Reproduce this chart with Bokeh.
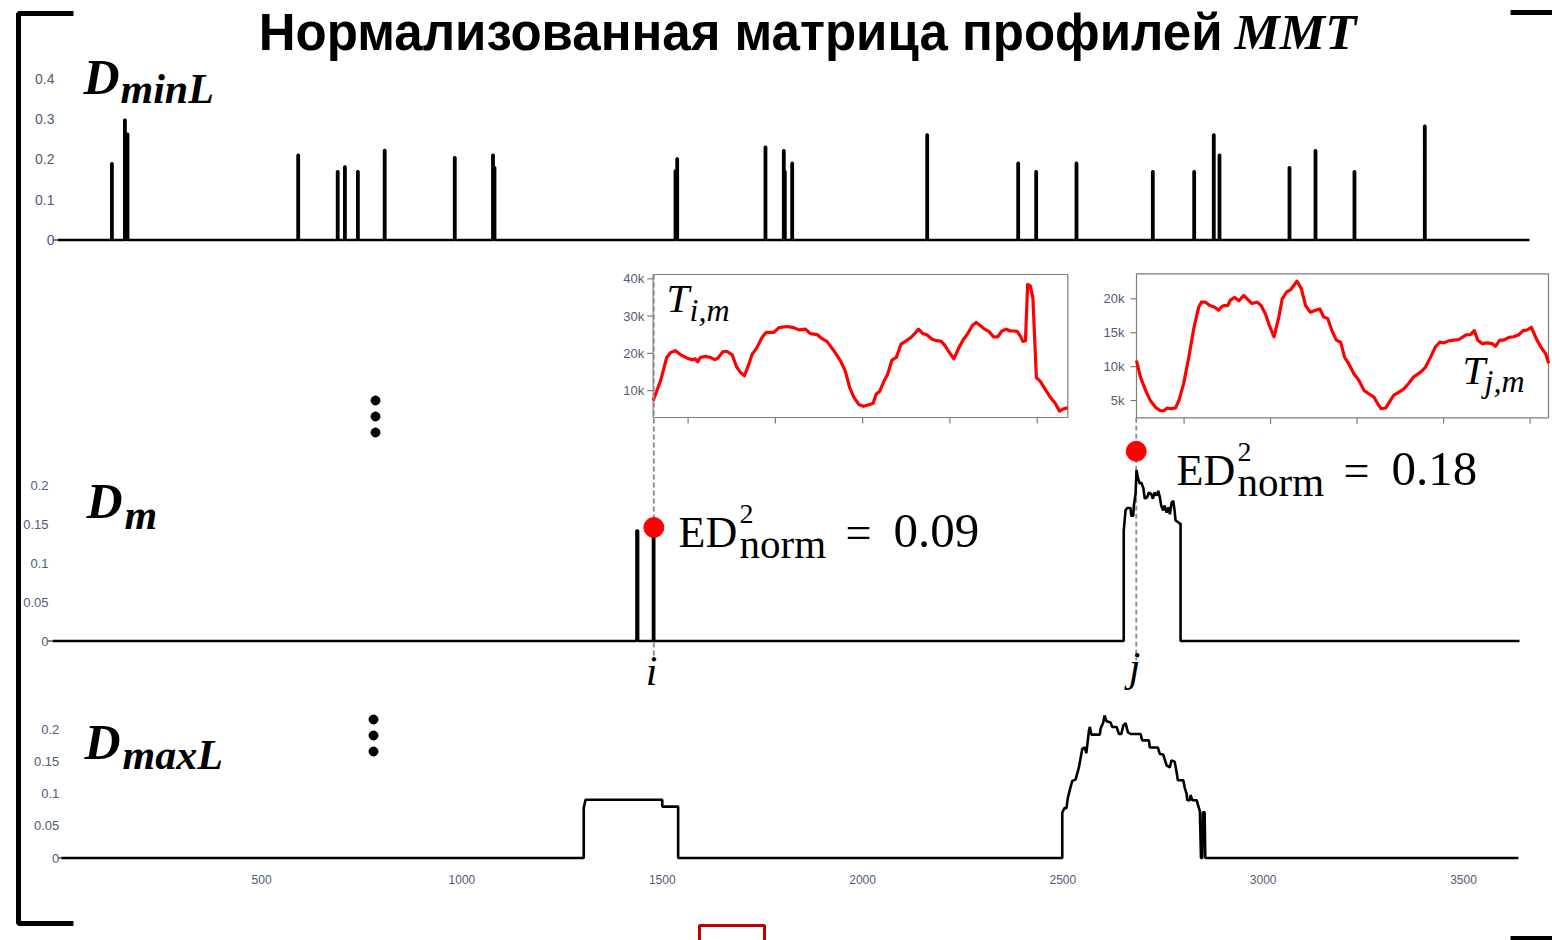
from bokeh.plotting import figure
from bokeh.models import Range1d
from bokeh.core.properties import value
from bokeh.embed import file_html
from bokeh.resources import INLINE

W, H = 1552, 940

# ---------------- data ----------------
series_length = 3640

# D_minL : isolated spikes (position, value)
dminl_positions = [134.5, 166.7, 173.1, 595.2, 692.9, 710.7, 742.8, 809.1, 982.4, 1076.9,
                   1080.6, 1528.2, 1532.4, 1750.7, 1796.0, 1798.5, 1816.7, 2150.6, 2375.6,
                   2420.1, 2519.8, 2708.5, 2810.8, 2859.3, 2873.4, 3046.5, 3110.8, 3207.2, 3381.1]
dminl_values = [0.190, 0.298, 0.263, 0.211, 0.170, 0.182, 0.170, 0.223, 0.205, 0.211,
                0.180, 0.172, 0.202, 0.231, 0.222, 0.170, 0.191, 0.261, 0.191,
                0.170, 0.191, 0.170, 0.170, 0.261, 0.211, 0.180, 0.222, 0.170, 0.283]

# D_m profile
dm_x = [0, 1449, 1449, 1453, 1453, 1490, 1490, 1493, 1493,
        2658, 2658, 2662.5, 2666.7, 2675, 2676.7, 2681.6, 2683.1, 2687.3, 2689.8, 2693,
        2698, 2701.5, 2706.5, 2710.4, 2716.4, 2720.3, 2726.3, 2730.3, 2734.5, 2739.5,
        2743.7, 2747.6, 2751.1, 2756.1, 2759.3, 2764.3, 2768.5, 2772.5, 2776.7, 2780.9,
        2784.1, 2786.6, 2792.3, 2797.3, 2799, 2799, 3640]
dm_y = [0, 0, 0.142, 0.142, 0, 0, 0.146, 0.146, 0,
        0, 0.142, 0.168, 0.171, 0.171, 0.161, 0.161, 0.174, 0.189, 0.220, 0.210,
        0.202, 0.204, 0.197, 0.183, 0.185, 0.191, 0.189, 0.183, 0.191, 0.187,
        0.193, 0.185, 0.174, 0.168, 0.174, 0.165, 0.172, 0.163, 0.178, 0.180,
        0.168, 0.155, 0.153, 0.151, 0.151, 0, 0]

# D_maxL profile
dmaxl_x = [0, 1304, 1304, 1308.5, 1500, 1500, 1539.7, 1539.7, 2498.5, 2498.5, 2504, 2509,
           2512.5, 2519, 2523.5, 2531.7, 2540, 2548.5, 2555, 2558.5, 2565, 2567.5, 2571,
           2592.4, 2594, 2600.8, 2604, 2609, 2619, 2623, 2634, 2640, 2645.8, 2650.8,
           2656.5, 2662.2, 2669, 2694, 2698, 2714.7, 2717, 2737, 2742, 2750.6, 2754,
           2759, 2767, 2771, 2779, 2784, 2787, 2800.6, 2804, 2809, 2810.5, 2817, 2818.8,
           2823, 2834, 2837, 2842, 2844.7, 2848, 2849.5, 2853.8, 2855.5, 3637]
dmaxl_y = [0, 0, 0.0777, 0.0906, 0.0906, 0.080, 0.080, 0, 0, 0.0708, 0.0776, 0.0776,
           0.094, 0.110, 0.120, 0.122, 0.141, 0.170, 0.172, 0.163, 0.198, 0.204, 0.192,
           0.192, 0.201, 0.211, 0.222, 0.213, 0.211, 0.204, 0.204, 0.193, 0.193, 0.206,
           0.210, 0.196, 0.193, 0.193, 0.183, 0.183, 0.172, 0.172, 0.162, 0.161, 0.154,
           0.144, 0.141, 0.152, 0.150, 0.133, 0.121, 0.121, 0.110, 0.0995, 0.090, 0.090, 0.098,
           0.090, 0.090, 0.083, 0.073, 0, 0, 0.071, 0.071, 0, 0]

i_index = 1492
j_index = 2689
ed_marker_values = [0.146, 0.244]

# subsequence T_{i,m}: offset from i, value
ti_offset = [0, 1.7, 3.1, 4.0, 5.1, 6.3, 7.8, 8.9, 9.7, 10.2, 10.8, 12.0, 13.1, 14.1, 14.8,
             16.0, 16.9, 18.1, 19.1, 20.0, 20.9, 21.8, 22.7, 23.7, 25.0, 25.9, 27.6, 28.8,
             30.7, 32.2, 33.4, 34.9, 36.0, 37.6, 38.5, 39.8, 41.4, 42.9, 44.0, 45.0, 46.0,
             47.1, 48.2, 49.6, 50.4, 51.1, 51.9, 53.0, 53.7, 54.7, 55.7, 56.8, 57.8, 58.9,
             59.7, 60.8, 61.8, 62.7, 63.9, 65.0, 66.0, 66.9, 67.7, 68.9, 70.0, 71.0, 71.9,
             73.1, 74.0, 75.0, 75.9, 76.9, 78.0, 78.9, 79.9, 80.9, 81.8, 82.6, 83.4, 84.1,
             84.7, 85.3, 85.8, 86.4, 87.0, 87.8, 88.7, 89.8, 91.0, 92.1, 93.1, 94.0, 95.0]
ti_values = [7330, 12700, 18900, 20200, 20700, 19600, 18700, 18300, 18500, 17700, 18900,
             19200, 18900, 18300, 18700, 20500, 20500, 19600, 16400, 14900, 14000, 16700,
             19800, 21400, 24400, 25600, 25600, 26900, 27200, 26900, 26300, 26500, 25300,
             25000, 24100, 23200, 20700, 18000, 15300, 10900, 8200, 6300, 5800, 6300, 6600,
             9100, 9800, 12800, 14300, 18200, 18900, 22500, 23200, 24100, 25000, 26500,
             25300, 25000, 23800, 23400, 23200, 22000, 20500, 18500, 21400, 23600, 25000,
             27400, 28300, 27400, 26500, 25900, 24400, 24400, 26000, 26500, 26000, 26000,
             25900, 24700, 23200, 23400, 38500, 38100, 34900, 13500, 12500, 10400, 8200,
             6600, 4500, 5100, 5400]

# subsequence T_{j,m}: offset from j, value
tj_offset = [0, 0.9, 2.1, 3.2, 4.4, 5.5, 6.3, 7.1, 7.9, 9.0, 9.8, 10.9, 12.1, 13.3, 14.4,
             15.0, 15.95, 16.95, 18.0, 19.0, 19.65, 20.2, 21.1, 21.7, 22.7, 23.7, 24.8,
             25.7, 26.7, 27.9, 28.8, 29.8, 30.7, 31.8, 32.9, 33.7, 34.7, 35.6, 36.4, 37.1,
             38.1, 39.1, 40.2, 41.4, 42.4, 43.3, 44.2, 45.2, 46.2, 47.2, 48.1, 49.1, 50.3,
             51.4, 52.6, 53.7, 54.9, 55.8, 56.6, 57.6, 58.5, 59.5, 60.6, 61.8, 63.0, 64.1,
             65.7, 66.8, 68.0, 69.1, 70.1, 71.1, 72.2, 73.4, 74.5, 75.5, 76.3, 77.2, 78.1,
             78.9, 79.9, 81.1, 82.2, 83.0, 84.0, 84.9, 86.1, 87.2, 88.4, 89.4, 90.3, 91.3,
             92.6, 93.6, 94.6, 95.3]
tj_values = [10900, 8500, 6500, 5000, 4000, 3500, 3500, 3900, 3800, 3900, 5000, 7500, 11400,
             15800, 18800, 19500, 19500, 19000, 18800, 18300, 18800, 19000, 19000, 19800,
             20200, 19700, 20500, 19900, 19300, 19500, 19000, 17800, 16100, 14400, 17300,
             20000, 21000, 21300, 22000, 22600, 21500, 19000, 18000, 18300, 18500, 17300,
             17100, 15300, 13900, 13600, 11400, 10400, 8900, 8000, 6500, 6000, 5500, 4500,
             3800, 3900, 4800, 5800, 6200, 6700, 7600, 8500, 9200, 9900, 11400, 12900,
             13600, 13500, 13800, 13900, 14000, 14400, 14700, 14700, 15300, 13900, 13400,
             13500, 13400, 13000, 13900, 13900, 14300, 14400, 14700, 15300, 15400, 15800,
             13900, 12800, 11900, 10500]

dminl_yticks = [0, 0.1, 0.2, 0.3, 0.4]
dminl_ylabels = ["0", "0.1", "0.2", "0.3", "0.4"]
dm_yticks = [0, 0.05, 0.1, 0.15, 0.2]
dm_ylabels = ["0", "0.05", "0.1", "0.15", "0.2"]
dmaxl_yticks = [0, 0.05, 0.1, 0.15, 0.2]
dmaxl_ylabels = ["0", "0.05", "0.1", "0.15", "0.2"]
x_ticks = [500, 1000, 1500, 2000, 2500, 3000, 3500]
x_labels = ["500", "1000", "1500", "2000", "2500", "3000", "3500"]
ti_yticks = [10000, 20000, 30000, 40000]
ti_ylabels = ["10k", "20k", "30k", "40k"]
tj_yticks = [5000, 10000, 15000, 20000]
tj_ylabels = ["5k", "10k", "15k", "20k"]
ti_xticks = [1500, 1520, 1540, 1560, 1580]
tj_xticks = [2700, 2720, 2740, 2760, 2780]

# ---------------- figure (pixel canvas) ----------------
p = figure(width=W, height=H, output_backend="svg", toolbar_location=None,
           x_range=Range1d(0, W), y_range=Range1d(H, 0),
           x_axis_location=None, y_axis_location=None,
           min_border=0, min_border_left=0, min_border_right=0,
           min_border_top=0, min_border_bottom=0)
p.outline_line_color = None
p.grid.visible = False
p.background_fill_color = "white"
p.border_fill_color = "white"

def panel(name, box, xr, yr):
    l, t, r, b = box
    sx = (xr[1] - xr[0]) / (r - l)
    sy = (yr[1] - yr[0]) / (b - t)
    p.extra_x_ranges[name] = Range1d(start=xr[0] - l * sx, end=xr[0] + (W - l) * sx)
    p.extra_y_ranges[name] = Range1d(start=yr[0] - (H - b) * sy, end=yr[0] + b * sy)
    return sx, sy

sx_min, sy_min = panel("dminl", (57, 78, 1529, 239.5), (0, series_length), (0, 0.4))
sx_dm, sy_dm = panel("dm", (52, 485, 1519, 640.5), (0, series_length), (0, 0.2))
sx_max, sy_max = panel("dmaxl", (60.8, 729, 1463, 857.5), (0, 3500), (0, 0.2))
ti_xr = (i_index, i_index + 95)
ti_yr = (2790, 41150)
sx_ti, sy_ti = panel("ti", (652.7, 274, 1067.3, 417), ti_xr, ti_yr)
tj_xr = (j_index, j_index + 95.26)
tj_yr = (2460, 23680)
sx_tj, sy_tj = panel("tj", (1136, 273.3, 1548, 417.3), tj_xr, tj_yr)

TICK_FONT = value("Liberation Sans")
TICK_COLOR = "#4f5b78"
SERIF = value("Liberation Serif")

def ylabels(name, ticks, labels, xpos, off, size="13px"):
    p.text(x=[xpos] * len(ticks), y=ticks, text=labels, x_range_name=name, y_range_name=name,
           x_offset=off, text_align="right", text_baseline="middle",
           text_font=TICK_FONT, text_font_size=size, text_color=TICK_COLOR)

# ---- D_minL ----
xs, ys = [0], [0]
for pos, v in sorted(zip(dminl_positions, dminl_values)):
    xs += [pos - 1.5, pos - 1.5, pos + 1.5, pos + 1.5]
    ys += [0, v, v, 0]
xs.append(series_length); ys.append(0)
p.line(xs, ys, x_range_name="dminl", y_range_name="dminl", line_color="black", line_width=2.6)
ylabels("dminl", dminl_yticks, dminl_ylabels, 0, -3, "14px")
p.segment(x0=[-5 * sx_min], y0=[0], x1=[0], y1=[0], x_range_name="dminl", y_range_name="dminl",
          line_color="#555", line_width=1.5)

# ---- insets ----
for name, xr, yr, sx, sy, yt, yl, xt, off, xo, yo in [
        ("ti", ti_xr, ti_yr, sx_ti, sy_ti, ti_yticks, ti_ylabels, ti_xticks, -9, ti_offset, ti_values),
        ("tj", tj_xr, tj_yr, sx_tj, sy_tj, tj_yticks, tj_ylabels, tj_xticks, -12, tj_offset, tj_values)]:
    p.quad(left=[xr[0]], right=[xr[1]], bottom=[yr[0]], top=[yr[1]], x_range_name=name,
           y_range_name=name, fill_color="white", line_color="#7d7d7d", line_width=1.2)
    p.segment(x0=[xr[0] - 6 * sx] * len(yt), x1=[xr[0]] * len(yt), y0=yt, y1=yt,
              x_range_name=name, y_range_name=name, line_color="#7d7d7d", line_width=1.2)
    p.segment(x0=xt, x1=xt, y0=[yr[0]] * len(xt), y1=[yr[0] - 6 * sy] * len(xt),
              x_range_name=name, y_range_name=name, line_color="#7d7d7d", line_width=1.2)
    ylabels(name, yt, yl, xr[0], off, "13px")
    base = i_index if name == "ti" else j_index
    p.line([base + o for o in xo], yo, x_range_name=name, y_range_name=name,
           line_color="#ff0000", line_width=3.2, line_join="round")

# ---- dashed guides ----
p.segment(x0=[i_index, j_index], x1=[i_index, j_index], y0=[274, 417.3], y1=[660, 660],
          x_range_name="dm", line_color="#8a8a8a", line_width=1.8, line_dash="5 3")

# ---- D_m ----
p.line(dm_x, dm_y, x_range_name="dm", y_range_name="dm", line_color="black", line_width=2.6)
ylabels("dm", dm_yticks, dm_ylabels, 0, -4)
p.segment(x0=[-5 * sx_dm], y0=[0], x1=[0], y1=[0], x_range_name="dm", y_range_name="dm",
          line_color="#555", line_width=1.5)
p.scatter([i_index, j_index], ed_marker_values, x_range_name="dm", y_range_name="dm",
          size=20, marker="circle", fill_color="#ff0000", line_color="#ff0000")

# ---- D_maxL ----
p.line(dmaxl_x, dmaxl_y, x_range_name="dmaxl", y_range_name="dmaxl", line_color="black", line_width=2.6)
ylabels("dmaxl", dmaxl_yticks, dmaxl_ylabels, 0, -2)
p.segment(x0=[-3 * sx_max], y0=[0], x1=[0], y1=[0], x_range_name="dmaxl", y_range_name="dmaxl",
          line_color="#555", line_width=1.5)
p.text(x=x_ticks, y=[0] * len(x_ticks), text=x_labels, x_range_name="dmaxl", y_range_name="dmaxl",
       y_offset=21, text_align="center", text_baseline="middle",
       text_font=TICK_FONT, text_font_size="12px", text_color=TICK_COLOR)

# ---------------- decorations / annotations (pixel canvas) ----------------
def txt(x, y, s, size, font=SERIF, style="normal", color="black", align="left"):
    # y is the desired baseline; compensate the renderer's baseline offset
    p.text(x=[x], y=[y - 0.38 * size], text=[s], text_font=font, text_font_size=f"{size}px",
           text_font_style=style, text_color=color, text_align=align, text_baseline="alphabetic")

# title
txt(1222, 51, "Нормализованная матрица профилей", 51, font=value("Liberation Sans"),
    style="bold", align="right")
txt(1234, 51, "MMT", 51, style="bold italic")

# panel labels
txt(83, 95, "D", 50, style="bold italic")
txt(120, 104, "minL", 42, style="bold italic")
txt(86, 519, "D", 50, style="bold italic")
txt(124, 530, "m", 42, style="bold italic")
txt(84, 760, "D", 50, style="bold italic")
txt(122, 770, "maxL", 42, style="bold italic")

# inset labels
txt(666, 313, "T", 41, style="italic")
txt(689, 322, "i,m", 32, style="italic")
txt(1462, 385, "T", 41, style="italic")
txt(1484, 393, "j,m", 32, style="italic")

# index labels
txt(651, 686, "i", 42, style="italic", align="center")
txt(1134, 682, "j", 42, style="italic", align="center")

# ED annotations
for (x0, yb, lab) in [(678, 549, "0.09"), (1176, 487, "0.18")]:
    txt(x0, yb, "ED", 44)
    txt(x0 + 61, yb - 25, "2", 28)
    txt(x0 + 61, yb + 10, "norm", 41)
    txt(x0 + 167, yb, "=", 46)
    txt(x0 + 215, yb, lab, 49)

# vertical ellipses
p.scatter([375, 375, 375, 373, 373, 373], [400, 416, 432, 719, 735, 751], size=9,
          marker="circle", fill_color="black", line_color="black")

# brackets
p.line([73, 18, 18, 73], [13, 13, 923, 923], line_color="black", line_width=5)
p.line([1510, 1556], [12, 12], line_color="black", line_width=5)
p.line([1510, 1556], [938, 938], line_color="black", line_width=5)
p.line([699, 699, 764, 764], [945, 925, 925, 945], line_color="#c00000", line_width=3)

open("out.html", "w").write(file_html(p, INLINE))
